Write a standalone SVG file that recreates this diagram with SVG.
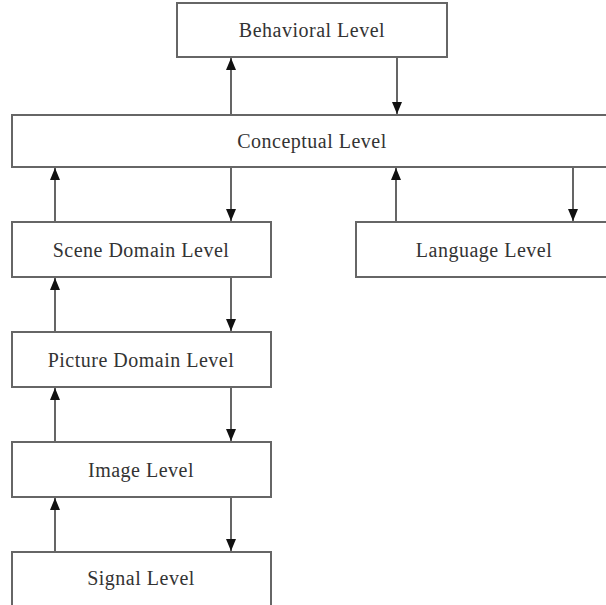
<svg xmlns="http://www.w3.org/2000/svg" width="606" height="605" viewBox="0 0 606 605">
<style>
.box{fill:#fff;stroke:#666;stroke-width:2}
.lbl{font-family:"Liberation Serif","Times New Roman",serif;font-size:20px;letter-spacing:0.5px;fill:#333;text-anchor:middle;dominant-baseline:central}
.con{stroke:#555;stroke-width:1.8;fill:none}
</style>
<defs>
<marker id="ah" viewBox="0 0 12 10" refX="12" refY="5" markerWidth="12" markerHeight="10" markerUnits="userSpaceOnUse" orient="auto"><path d="M0,0 L12,5 L0,10 z" fill="#111"/></marker>
</defs>
<rect width="606" height="605" fill="#fff"/>
<g id="connectors">
<line class="con" x1="231" y1="115" x2="231" y2="58" marker-end="url(#ah)"/>
<line class="con" x1="397" y1="57" x2="397" y2="114" marker-end="url(#ah)"/>
<line class="con" x1="55" y1="222" x2="55" y2="168" marker-end="url(#ah)"/>
<line class="con" x1="231" y1="167" x2="231" y2="221" marker-end="url(#ah)"/>
<line class="con" x1="396" y1="222" x2="396" y2="168" marker-end="url(#ah)"/>
<line class="con" x1="573" y1="167" x2="573" y2="221" marker-end="url(#ah)"/>
<line class="con" x1="55" y1="332" x2="55" y2="278" marker-end="url(#ah)"/>
<line class="con" x1="231" y1="277" x2="231" y2="331" marker-end="url(#ah)"/>
<line class="con" x1="55" y1="442" x2="55" y2="388" marker-end="url(#ah)"/>
<line class="con" x1="231" y1="387" x2="231" y2="441" marker-end="url(#ah)"/>
<line class="con" x1="55" y1="552" x2="55" y2="498" marker-end="url(#ah)"/>
<line class="con" x1="231" y1="497" x2="231" y2="551" marker-end="url(#ah)"/>
</g>
<g id="behavioral"><rect class="box" x="177" y="3" width="270" height="54"/><text class="lbl" x="312" y="30">Behavioral Level</text></g>
<g id="conceptual"><rect class="box" x="12" y="115" width="600" height="52"/><text class="lbl" x="312" y="141">Conceptual Level</text></g>
<g id="scene"><rect class="box" x="12" y="222" width="259" height="55"/><text class="lbl" x="141" y="250">Scene Domain Level</text></g>
<g id="language"><rect class="box" x="356" y="222" width="256" height="55"/><text class="lbl" x="484" y="250">Language Level</text></g>
<g id="picture"><rect class="box" x="12" y="332" width="259" height="55"/><text class="lbl" x="141" y="360">Picture Domain Level</text></g>
<g id="image"><rect class="box" x="12" y="442" width="259" height="55"/><text class="lbl" x="141" y="470">Image Level</text></g>
<g id="signal"><rect class="box" x="12" y="552" width="259" height="60"/><text class="lbl" x="141" y="578">Signal Level</text></g>
</svg>
